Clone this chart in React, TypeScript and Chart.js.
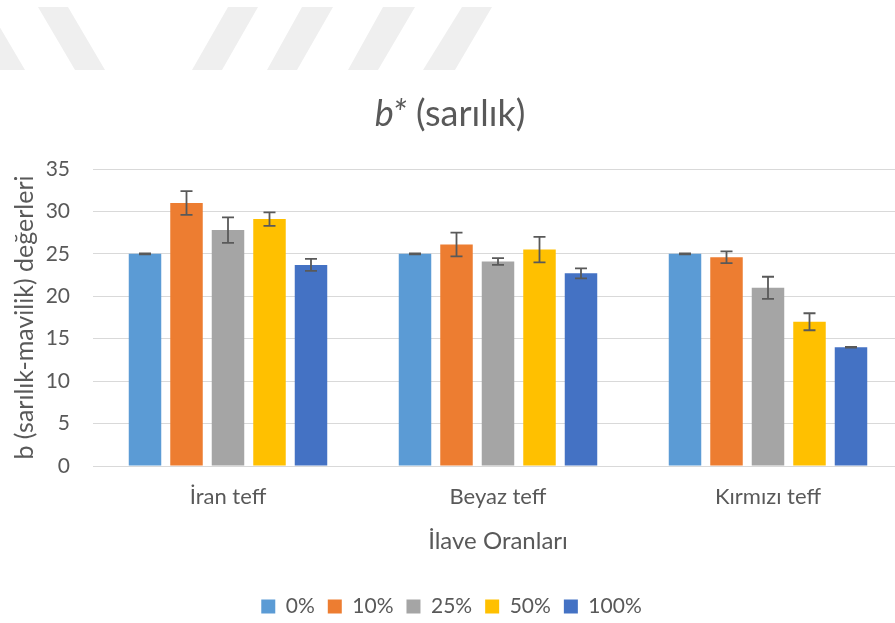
import React, { useEffect, useRef } from "react";
import { Chart, registerables } from "chart.js";
Chart.register(...registerables);

const categories = ["İran teff", "Beyaz teff", "Kırmızı teff"];
const seriesLabels = ["0%", "10%", "25%", "50%", "100%"];
const values0 = [25.0, 25.0, 25.0];
const values10 = [31.0, 26.1, 24.6];
const values25 = [27.8, 24.1, 21.0];
const values50 = [29.1, 25.5, 17.0];
const values100 = [23.7, 22.7, 14.0];
const err0 = [0.05, 0.05, 0.05];
const err10 = [1.4, 1.4, 0.7];
const err25 = [1.5, 0.4, 1.3];
const err50 = [0.8, 1.5, 1.0];
const err100 = [0.7, 0.6, 0.05];
const seriesColors = ["#5B9BD5", "#ED7D31", "#A5A5A5", "#FFC000", "#4472C4"];
const yMin = 0;
const yMax = 35;
const yStep = 5;
const titleItalic = "b*";
const titleRest = " (sarılık)";
const xTitle = "İlave Oranları";
const yTitle = "b (sarılık-mavilik) değerleri";

const allValues = [values0, values10, values25, values50, values100];
const allErrors = [err0, err10, err25, err50, err100];

const TEXT = "#595959";
const FONT = "Lato";

const watermarkPlugin = {
  id: "watermark",
  beforeDraw(chart: any) {
    const ctx = chart.ctx;
    const stripes = [
      [-37, -12, 0, 25],
      [38, 68, 75, 105],
      [228, 258, 192, 222],
      [302, 333, 267, 297],
      [383, 415, 348, 378],
      [462, 492, 423, 455],
    ];
    ctx.save();
    ctx.fillStyle = "#efefef";
    stripes.forEach(([t1, t2, b1, b2]) => {
      ctx.beginPath();
      ctx.moveTo(t1, 7);
      ctx.lineTo(t2, 7);
      ctx.lineTo(b2, 70);
      ctx.lineTo(b1, 70);
      ctx.closePath();
      ctx.fill();
    });
    ctx.restore();
  },
};

const textPlugin = {
  id: "customText",
  afterDraw(chart: any) {
    const ctx = chart.ctx;
    ctx.save();
    ctx.fillStyle = TEXT;
    ctx.textBaseline = "alphabetic";
    ctx.textAlign = "left";
    const italicFont = `italic 36px ${FONT}`;
    const normalFont = `36px ${FONT}`;
    ctx.font = italicFont;
    const w1 = ctx.measureText(titleItalic).width;
    ctx.font = normalFont;
    const w2 = ctx.measureText(titleRest).width;
    const start = 450 - (w1 + w2) / 2;
    ctx.font = italicFont;
    ctx.fillText(titleItalic, start, 126);
    ctx.font = normalFont;
    ctx.fillText(titleRest, start + w1, 126);

    const area = chart.chartArea;
    ctx.font = `24px ${FONT}`;
    ctx.textAlign = "center";
    ctx.textBaseline = "middle";
    ctx.fillText(xTitle, (area.left + area.right) / 2, 541);
    ctx.restore();
  },
};

const errorBarPlugin = {
  id: "errorBars",
  afterDatasetsDraw(chart: any) {
    const ctx = chart.ctx;
    const yScale = chart.scales.y;
    ctx.save();
    ctx.strokeStyle = "#595959";
    ctx.lineWidth = 1.8;
    chart.data.datasets.forEach((ds: any, di: number) => {
      const meta = chart.getDatasetMeta(di);
      meta.data.forEach((bar: any, i: number) => {
        const v = ds.data[i];
        const e = allErrors[di][i];
        const yTop = yScale.getPixelForValue(v + e);
        const yBot = yScale.getPixelForValue(v - e);
        const x = bar.x;
        const cap = 6;
        ctx.beginPath();
        ctx.moveTo(x, yTop);
        ctx.lineTo(x, yBot);
        ctx.moveTo(x - cap, yTop);
        ctx.lineTo(x + cap, yTop);
        ctx.moveTo(x - cap, yBot);
        ctx.lineTo(x + cap, yBot);
        ctx.stroke();
      });
    });
    ctx.restore();
  },
};

export default function App() {
  const ref = useRef<HTMLCanvasElement | null>(null);
  useEffect(() => {
    if (!ref.current) return;
    const chart = new Chart(ref.current, {
      type: "bar",
      data: {
        labels: categories,
        datasets: seriesLabels.map((label, i) => ({
          label,
          data: allValues[i],
          backgroundColor: seriesColors[i],
          borderWidth: 0,
          categoryPercentage: 0.7685,
          barPercentage: 0.783,
        })),
      },
      options: {
        animation: false,
        responsive: false,
        devicePixelRatio: 1,
        layout: { padding: { top: 169, right: 7, left: 0, bottom: 0 } },
        plugins: {
          title: { display: false },
          tooltip: { enabled: false },
          legend: {
            display: true,
            position: "bottom",
            labels: {
              color: TEXT,
              font: { family: FONT, size: 21 },
              boxWidth: 14,
              boxHeight: 14,
              padding: 13,
            },
          },
        },
        scales: {
          x: {
            grid: { display: false },
            border: { display: false },
            ticks: {
              color: TEXT,
              font: { family: FONT, size: 22 },
              padding: 10,
            },
            afterFit(scale: any) {
              scale.height = 117;
            },
          },
          y: {
            min: yMin,
            max: yMax,
            ticks: {
              stepSize: yStep,
              color: TEXT,
              font: { family: FONT, size: 21 },
              padding: 23,
            },
            grid: { color: "#d9d9d9", lineWidth: 1, drawTicks: false },
            border: { display: false },
            title: {
              display: true,
              text: yTitle,
              color: TEXT,
              font: { family: FONT, size: 25 },
              padding: { top: 10, bottom: 0 },
            },
            afterFit(scale: any) {
              scale.width = 93;
            },
          },
        },
      },
      plugins: [watermarkPlugin, errorBarPlugin, textPlugin],
    } as any);
    return () => chart.destroy();
  }, []);
  return (
    <div
      style={{
        position: "fixed",
        left: 0,
        top: 0,
        width: 895,
        height: 623,
        overflow: "hidden",
        background: "#fff",
      }}
    >
      <canvas ref={ref} width={910} height={627} style={{ width: 910, height: 627 }} />
    </div>
  );
}
